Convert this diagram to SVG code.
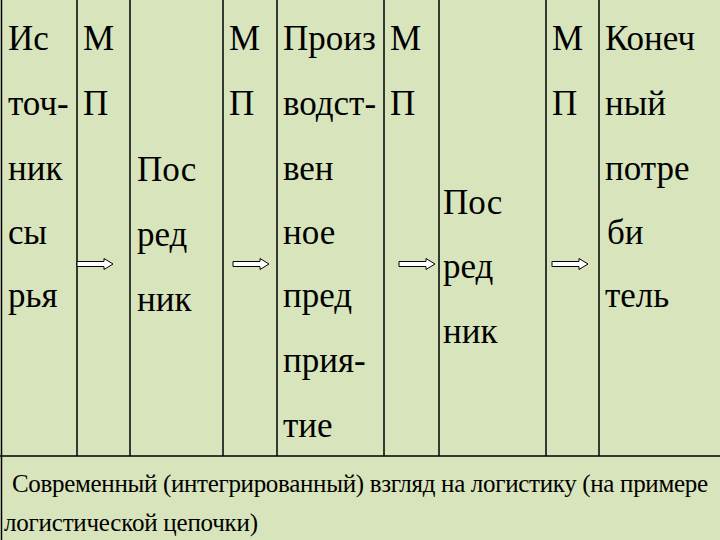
<svg xmlns="http://www.w3.org/2000/svg" width="720" height="540" viewBox="0 0 720 540">
<rect width="720" height="540" fill="#d8e4bc"/>
<g id="grid" stroke="#000" stroke-width="1.5" fill="none">
<line x1="1.5" y1="0" x2="1.5" y2="540"/>
<line x1="77" y1="0" x2="77" y2="456"/>
<line x1="130" y1="0" x2="130" y2="456"/>
<line x1="223" y1="0" x2="223" y2="456"/>
<line x1="277" y1="0" x2="277" y2="456"/>
<line x1="384" y1="0" x2="384" y2="456"/>
<line x1="439" y1="0" x2="439" y2="456"/>
<line x1="546" y1="0" x2="546" y2="456"/>
<line x1="599" y1="0" x2="599" y2="456"/>
<line x1="0" y1="456" x2="720" y2="456"/>
</g>
<g id="source" font-family="Liberation Serif, DejaVu Serif, serif" font-size="35">
<text x="8" y="50" font-family="Liberation Serif">Ис</text>
<text x="8" y="115" font-family="Liberation Serif">точ-</text>
<text x="8" y="180" font-family="Liberation Serif">ник</text>
<text x="8" y="244" font-family="Liberation Serif">сы</text>
<text x="8" y="307" font-family="Liberation Serif">рья</text>
</g>
<g id="mp1" font-family="Liberation Serif, DejaVu Serif, serif" font-size="35">
<text x="83" y="50" font-family="Liberation Serif">М</text>
<text x="83" y="115" font-family="Liberation Serif">П</text>
</g>
<g id="intermediary1" font-family="Liberation Serif, DejaVu Serif, serif" font-size="35">
<text x="137" y="181" font-family="Liberation Serif">Пос</text>
<text x="137" y="246" font-family="Liberation Serif">ред</text>
<text x="137" y="311" font-family="Liberation Serif">ник</text>
</g>
<g id="mp2" font-family="Liberation Serif, DejaVu Serif, serif" font-size="35">
<text x="229" y="50" font-family="Liberation Serif">М</text>
<text x="229" y="115" font-family="Liberation Serif">П</text>
</g>
<g id="producer" font-family="Liberation Serif, DejaVu Serif, serif" font-size="35">
<text x="283" y="50" font-family="Liberation Serif">Произ</text>
<text x="283" y="115" font-family="Liberation Serif">водст-</text>
<text x="283" y="180" font-family="Liberation Serif">вен</text>
<text x="283" y="244" font-family="Liberation Serif">ное</text>
<text x="283" y="307" font-family="Liberation Serif">пред</text>
<text x="283" y="372" font-family="Liberation Serif">прия-</text>
<text x="283" y="437" font-family="Liberation Serif">тие</text>
</g>
<g id="mp3" font-family="Liberation Serif, DejaVu Serif, serif" font-size="35">
<text x="390" y="50" font-family="Liberation Serif">М</text>
<text x="390" y="115" font-family="Liberation Serif">П</text>
</g>
<g id="intermediary2" font-family="Liberation Serif, DejaVu Serif, serif" font-size="35">
<text x="443" y="214" font-family="Liberation Serif">Пос</text>
<text x="443" y="278" font-family="Liberation Serif">ред</text>
<text x="443" y="343" font-family="Liberation Serif">ник</text>
</g>
<g id="mp4" font-family="Liberation Serif, DejaVu Serif, serif" font-size="35">
<text x="552" y="50" font-family="Liberation Serif">М</text>
<text x="552" y="115" font-family="Liberation Serif">П</text>
</g>
<g id="consumer" font-family="Liberation Serif, DejaVu Serif, serif" font-size="35">
<text x="605" y="50" font-family="Liberation Serif">Конеч</text>
<text x="605" y="115" font-family="Liberation Serif">ный</text>
<text x="605" y="180" font-family="Liberation Serif">потре</text>
<text x="607" y="244" font-family="Liberation Serif">би</text>
<text x="605" y="307" font-family="Liberation Serif">тель</text>
</g>
<g id="caption" font-family="Liberation Serif, DejaVu Serif, serif" font-size="25">
<text x="12" y="492" textLength="696" font-family="Liberation Serif">Современный (интегрированный) взгляд на логистику (на примере</text>
<text x="4" y="531" textLength="254" font-family="Liberation Serif">логистической цепочки)</text>
</g>
<g id="connectors" fill="#fff" stroke="#000" stroke-width="1">
<path d="M77,261.5 H104 V258.5 L113,264 L104,269.5 V266.5 H77 Z"/>
<path d="M233,261.5 H260 V258.5 L269,264 L260,269.5 V266.5 H233 Z"/>
<path d="M399,261.5 H426 V258.5 L435,264 L426,269.5 V266.5 H399 Z"/>
<path d="M552,261.5 H579 V258.5 L588,264 L579,269.5 V266.5 H552 Z"/>
</g>
</svg>
